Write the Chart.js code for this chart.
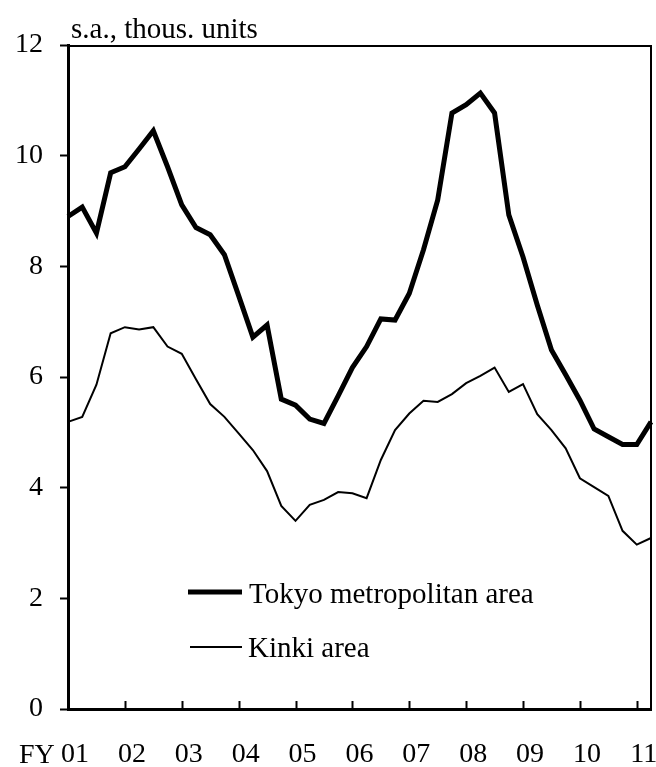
<!DOCTYPE html>
<html>
<head>
<meta charset="utf-8">
<script src="https://cdn.jsdelivr.net/npm/chart.js@4.4.1/dist/chart.umd.min.js"></script>
<style>
  html, body { margin: 0; padding: 0; background: #fff; }
  canvas { display: block; }
</style>
</head>
<body>
<canvas id="chart" width="656" height="767"></canvas>
<script>
// fiscal years shown on the x axis, one label per 4 quarters
const yearLabels = ["01", "02", "03", "04", "05", "06", "07", "08", "09", "10", "11"];
const quarters = ["Q1", "Q2", "Q3", "Q4"];

// quarterly, s.a., thousand units (FY01 Q1 .. FY11 Q2)
const tokyo = [
  8.90, 9.07, 8.60, 9.69, 9.80, 10.12, 10.45, 9.80, 9.11, 8.70,
  8.57, 8.21, 7.47, 6.72, 6.94, 5.60, 5.49, 5.24, 5.16, 5.66,
  6.17, 6.55, 7.05, 7.03, 7.51, 8.30, 9.20, 10.77, 10.92, 11.13,
  10.77, 8.93, 8.17, 7.30, 6.49, 6.04, 5.58, 5.06, 4.92, 4.78,
  4.78, 5.19
];
const kinki = [
  5.19, 5.28, 5.86, 6.79, 6.90, 6.86, 6.90, 6.55, 6.42, 5.96,
  5.51, 5.28, 4.98, 4.68, 4.30, 3.67, 3.40, 3.69, 3.78, 3.92,
  3.90, 3.81, 4.50, 5.04, 5.34, 5.57, 5.55, 5.69, 5.89, 6.02,
  6.17, 5.73, 5.87, 5.33, 5.04, 4.71, 4.17, 4.01, 3.85, 3.22,
  2.97, 3.09
];
const seriesNames = ["Tokyo metropolitan area", "Kinki area"];

const categories = [];
yearLabels.forEach(y => quarters.forEach(q => categories.push(y + q)));
categories.length = tokyo.length;

const FONT = "Liberation Serif, Times New Roman, serif";

// extra drawing: inward x ticks, thin top/right frame, texts, legend
const decor = {
  id: "decor",
  afterDraw(chart) {
    const { ctx, chartArea: a, scales: { x } } = chart;
    ctx.save();
    ctx.strokeStyle = "#000";

    ctx.lineWidth = 2;
    for (let i = 4; i < categories.length; i += 4) {
      const px = Math.round(x.getPixelForValue(i)) + 0.5;
      ctx.beginPath();
      ctx.moveTo(px, a.bottom);
      ctx.lineTo(px, a.bottom - 8);
      ctx.stroke();
    }

    ctx.lineWidth = 2;
    ctx.beginPath();
    ctx.moveTo(a.left, a.top + 1);
    ctx.lineTo(a.right, a.top + 1);
    ctx.lineTo(a.right, a.bottom);
    ctx.stroke();

    ctx.fillStyle = "#000";
    ctx.font = "29px " + FONT;
    ctx.textAlign = "left";
    ctx.textBaseline = "alphabetic";
    ctx.fillText("s.a., thous. units", 71, 38);
    ctx.font = "28px " + FONT;
    ctx.fillText("FY", 19, 763);

    // legend
    ctx.font = "29px " + FONT;
    ctx.lineCap = "butt";
    ctx.lineWidth = 5;
    ctx.beginPath();
    ctx.moveTo(188, 592);
    ctx.lineTo(242, 592);
    ctx.stroke();
    ctx.lineWidth = 2;
    ctx.beginPath();
    ctx.moveTo(190, 647);
    ctx.lineTo(242, 647);
    ctx.stroke();
    ctx.fillText(seriesNames[0], 249, 603);
    ctx.fillText(seriesNames[1], 248, 657);
    ctx.restore();
  }
};

new Chart(document.getElementById("chart"), {
  type: "line",
  data: {
    labels: categories,
    datasets: [
      { label: seriesNames[0], data: tokyo, borderColor: "#000", borderWidth: 5,
        pointRadius: 0, tension: 0, borderJoinStyle: "miter", fill: false },
      { label: seriesNames[1], data: kinki, borderColor: "#000", borderWidth: 2,
        pointRadius: 0, tension: 0, borderJoinStyle: "miter", fill: false }
    ]
  },
  options: {
    responsive: false,
    animation: false,
    layout: { padding: { top: 45, right: 5, left: 0, bottom: 0 } },
    plugins: { legend: { display: false }, tooltip: { enabled: false } },
    scales: {
      x: {
        type: "category",
        offset: false,
        grid: { display: false, drawTicks: false },
        border: { display: true, color: "#000", width: 3 },
        ticks: {
          autoSkip: false,
          maxRotation: 0,
          padding: 29,
          labelOffset: 7,
          color: "#000",
          font: { family: FONT, size: 28 },
          callback: (v, i) => (i % 4 === 0 ? yearLabels[i / 4] : "")
        },
        afterFit(s) { s.height = 58; s.paddingLeft = 0; s.paddingRight = 0; }
      },
      y: {
        min: 0,
        max: 12,
        grid: { drawOnChartArea: false, drawTicks: true, tickLength: 8,
                tickColor: "#000", tickWidth: 2, color: "#000" },
        border: { display: true, color: "#000", width: 3 },
        ticks: {
          stepSize: 2,
          padding: 17,
          color: "#000",
          font: { family: FONT, size: 28 }
        },
        afterFit(s) { s.width = 68; s.paddingTop = 0; s.paddingBottom = 0; }
      }
    }
  },
  plugins: [decor]
});
</script>
</body>
</html>
